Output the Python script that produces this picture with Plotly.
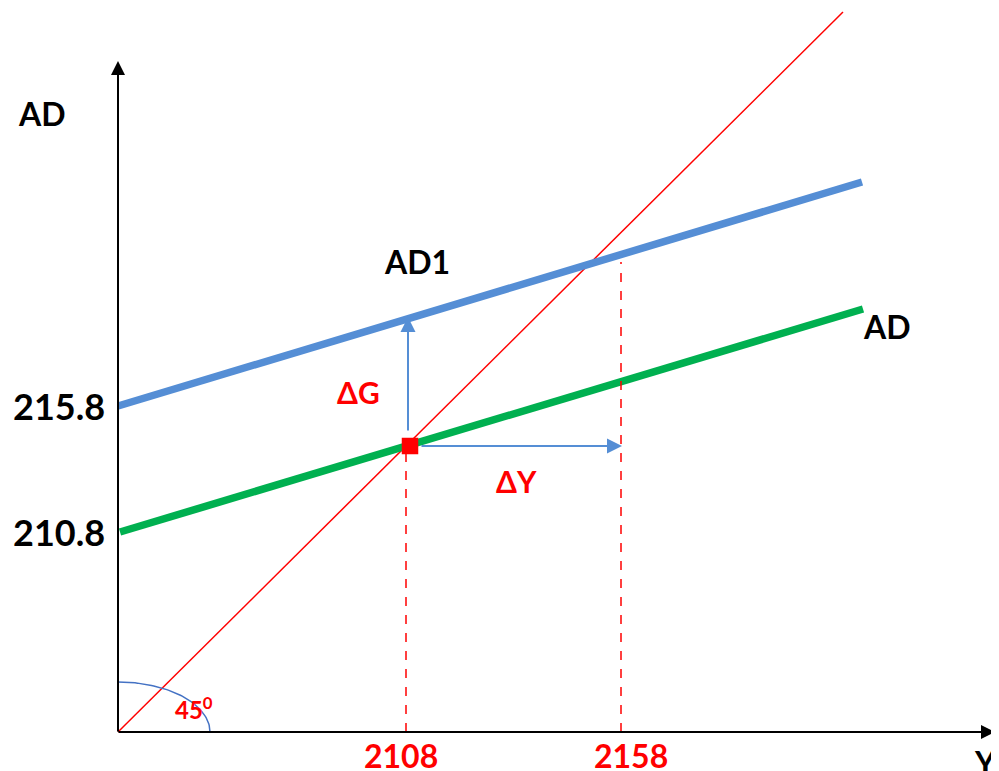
import numpy as np
import plotly.graph_objects as go

# Schematic diagram coordinates (origin at the axes corner)
line45_x = [0, 725]
line45_y = [0, 720]
ad_x = [2, 745]
ad_y = [200, 423]
ad1_x = [0, 744]
ad1_y = [326, 550]
eq_x = [292]
eq_y = [286]
y_tick_vals = [326, 200]
y_tick_text = ["215.8", "210.8"]
x_tick_vals = [288, 503]
x_tick_text = ["2108", "2158"]
x_label_pos = [283, 513]
dash_top = [286, 470]

FONT = "Lato, 'Open Sans', sans-serif"
RED = "#FF0000"
BLUE = "#558ED5"
GREEN = "#00B050"

fig = go.Figure()

# 45 degree line
fig.add_trace(go.Scatter(x=line45_x, y=line45_y, mode="lines",
                         line=dict(color=RED, width=1.5), hoverinfo="skip"))
# AD1 (blue)
fig.add_trace(go.Scatter(x=ad1_x, y=ad1_y, mode="lines",
                         line=dict(color=BLUE, width=7.5), hoverinfo="skip"))
# AD (green)
fig.add_trace(go.Scatter(x=ad_x, y=ad_y, mode="lines",
                         line=dict(color=GREEN, width=7.5), hoverinfo="skip"))
# dashed verticals
for xv, top in zip(x_tick_vals, dash_top):
    fig.add_trace(go.Scatter(x=[xv, xv], y=[0, top], mode="lines",
                             line=dict(color=RED, width=1.5, dash="dash"), hoverinfo="skip"))
# 45 degree arc
t = np.linspace(0, np.pi / 2, 60)
fig.add_trace(go.Scatter(x=92 * np.cos(t), y=50 * np.sin(t), mode="lines",
                         line=dict(color="#4472C4", width=1.5), hoverinfo="skip"))
# equilibrium point
fig.add_trace(go.Scatter(x=eq_x, y=eq_y, mode="markers",
                         marker=dict(symbol="square", size=15, color=RED,
                                     line=dict(color=RED, width=1.5)), hoverinfo="skip"))

annotations = []

def arrow(x0, y0, x1, y1, color, width, size):
    annotations.append(dict(x=x1, y=y1, ax=x0, ay=y0, xref="x", yref="y",
                            axref="x", ayref="y", showarrow=True, arrowhead=2,
                            arrowsize=size, arrowwidth=width, arrowcolor=color, text=""))

# axes
arrow(0, -1, 0, 671, "black", 2, 1.4)
arrow(-1, 0, 877, 0, "black", 2, 1.4)
# delta G and delta Y arrows
arrow(290, 300, 290, 415, BLUE, 2, 1.5)
arrow(302, 286, 504, 286, BLUE, 2, 1.5)

def label(x, y, text, color="black", size=30):
    annotations.append(dict(x=x, y=y, xref="x", yref="y", text=text, showarrow=False,
                            font=dict(family=FONT, size=size, color=color)))

label(-76, 619, "<b>AD</b>", size=32)
label(299, 471, "<b>AD1</b>", size=32)
label(769, 406, "<b>AD</b>", size=32)
label(240, 340, "<b>ΔG</b>", RED, 30)
label(398, 251, "<b>ΔY</b>", RED, 30)
label(76, 24, "<b>45<sup>0</sup></b>", RED, 24)
label(867, -30, "<b>Y</b>", size=32)
for v, tx in zip(y_tick_vals, y_tick_text):
    label(-59, v, "<b>" + tx + "</b>", size=36)
for p, tx in zip(x_label_pos, x_tick_text):
    label(p, -23, "<b>" + tx + "</b>", RED, 32)

# page body has an 8px margin: figure is 991x763 and placed at (8, 8)
fig.update_layout(
    width=991, height=763,
    margin=dict(l=0, r=0, t=0, b=0),
    paper_bgcolor="white", plot_bgcolor="white",
    showlegend=False,
    annotations=annotations,
    xaxis=dict(range=[-110, 881], visible=False, fixedrange=True),
    yaxis=dict(range=[-39, 724], visible=False, fixedrange=True),
)

fig.write_html("out.html")
